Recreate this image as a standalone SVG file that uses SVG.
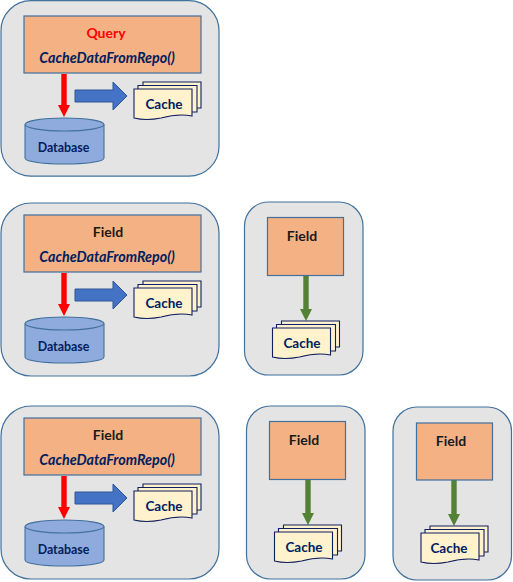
<svg xmlns="http://www.w3.org/2000/svg" xmlns:xlink="http://www.w3.org/1999/xlink" width="513" height="582" viewBox="0 0 513 582">
<style>
text{font-family:Lato,"Liberation Sans",sans-serif;font-weight:700;text-anchor:middle}
.panel{fill:#e4e4e4;stroke:#41719c;stroke-width:1.2}
.box{fill:#f4b183;stroke:#41719c;stroke-width:1.2}
.page{fill:#fff2cc;stroke:#0f1f60;stroke-width:1.1}
.cyl{fill:#8faadc;stroke:#41719c;stroke-width:1.1}
.navy{fill:#002060;font-size:13.5px}
.db{fill:#002060;font-size:12.4px}
.fn{fill:#002060;font-size:14.3px;font-style:italic}
.title{fill:#1a1a1a;font-size:14px}
.query{fill:#ff0000;font-size:14px}
.red{fill:#ff0000}
.blue{fill:#4472c4;stroke:#2f5597;stroke-width:1}
.green{fill:#548235}
</style>
<defs>
<g id="cachePages">
<path class="page" d="M9 0H67V26H9Z"/>
<path class="page" d="M4 3.500H63V30H4Z"/>
<path class="page" d="M0 7H58V34C48 32 38 33 27 36C17 38 8 38 0 36Z"/>
</g>
<g id="cylinder">
<path class="cyl" d="M0 6.500V40C0 48 79 48 79 40V6.500"/>
<ellipse class="cyl" cx="39.500" cy="6.500" rx="39.500" ry="6.500"/>
</g>
<path id="redArrow" class="red" d="M-2.700 0H2.700V31H6L0 43L-6 31H-2.700Z"/>
<path id="blueArrow" class="blue" d="M0 8H38V0L52 14L38 28V20H0Z"/>
<path id="greenArrow" class="green" d="M-2.700 0H2.700V34H6L0 46L-6 34H-2.700Z"/>
</defs>

<g id="panel-query"><rect class="panel" x="1" y="0.700" width="218" height="175.500" rx="30"/></g>
<g id="panel-field-1"><rect class="panel" x="1" y="203" width="218" height="173" rx="30"/></g>
<g id="panel-field-1b"><rect class="panel" x="244.500" y="202" width="118.500" height="173" rx="24"/></g>
<g id="panel-field-2"><rect class="panel" x="1" y="406" width="218" height="173" rx="30"/></g>
<g id="panel-field-2b"><rect class="panel" x="246.500" y="406" width="118.500" height="173" rx="24"/></g>
<g id="panel-field-2c"><rect class="panel" x="393" y="407" width="118.500" height="173" rx="24"/></g>

<g id="connectors">
<use xlink:href="#redArrow" href="#redArrow" x="64" y="74"/>
<use xlink:href="#blueArrow" href="#blueArrow" x="75" y="82"/>
<use xlink:href="#redArrow" href="#redArrow" x="64" y="273"/>
<use xlink:href="#blueArrow" href="#blueArrow" x="75" y="281"/>
<use xlink:href="#greenArrow" href="#greenArrow" x="306" y="275"/>
<use xlink:href="#redArrow" href="#redArrow" x="64" y="476"/>
<use xlink:href="#blueArrow" href="#blueArrow" x="75" y="484"/>
<use xlink:href="#greenArrow" href="#greenArrow" x="308" y="479"/>
<use xlink:href="#greenArrow" href="#greenArrow" x="454" y="480"/>
</g>

<g id="query-box"><rect class="box" x="24" y="16" width="177" height="57"/><text class="query" x="106" y="37.500">Query</text><text class="fn" x="107" y="62.500">CacheDataFromRepo()</text></g>
<g id="database-1"><use xlink:href="#cylinder" href="#cylinder" x="25" y="118"/><text class="db" x="63.500" y="151.500">Database</text></g>
<g id="cache-1"><use xlink:href="#cachePages" href="#cachePages" x="134" y="82"/><text class="navy" x="164" y="108.500">Cache</text></g>

<g id="field-box-1"><rect class="box" x="24" y="215" width="177" height="57"/><text class="title" x="108" y="236.500">Field</text><text class="fn" x="107" y="261.500">CacheDataFromRepo()</text></g>
<g id="database-2"><use xlink:href="#cylinder" href="#cylinder" x="25" y="317"/><text class="db" x="63.500" y="350.500">Database</text></g>
<g id="cache-2"><use xlink:href="#cachePages" href="#cachePages" x="134" y="281"/><text class="navy" x="164" y="307.500">Cache</text></g>

<g id="field-box-1b"><rect class="box" x="267.500" y="217.500" width="76" height="58"/><text class="title" x="302" y="240.500">Field</text></g>
<g id="cache-1b"><use xlink:href="#cachePages" href="#cachePages" x="272.500" y="321"/><text class="navy" x="302" y="347.500">Cache</text></g>

<g id="field-box-2"><rect class="box" x="24" y="418" width="177" height="57"/><text class="title" x="108" y="439.500">Field</text><text class="fn" x="107" y="464.500">CacheDataFromRepo()</text></g>
<g id="database-3"><use xlink:href="#cylinder" href="#cylinder" x="25" y="520"/><text class="db" x="63.500" y="553.500">Database</text></g>
<g id="cache-3"><use xlink:href="#cachePages" href="#cachePages" x="134" y="484"/><text class="navy" x="164" y="510.500">Cache</text></g>

<g id="field-box-2b"><rect class="box" x="269.500" y="421.500" width="76" height="58"/><text class="title" x="304" y="444.500">Field</text></g>
<g id="cache-2b"><use xlink:href="#cachePages" href="#cachePages" x="274.500" y="525"/><text class="navy" x="304" y="551.500">Cache</text></g>

<g id="field-box-2c"><rect class="box" x="416.500" y="423" width="76" height="57"/><text class="title" x="451" y="445.500">Field</text></g>
<g id="cache-2c"><use xlink:href="#cachePages" href="#cachePages" x="421" y="526"/><text class="navy" x="449" y="552.500">Cache</text></g>
</svg>
